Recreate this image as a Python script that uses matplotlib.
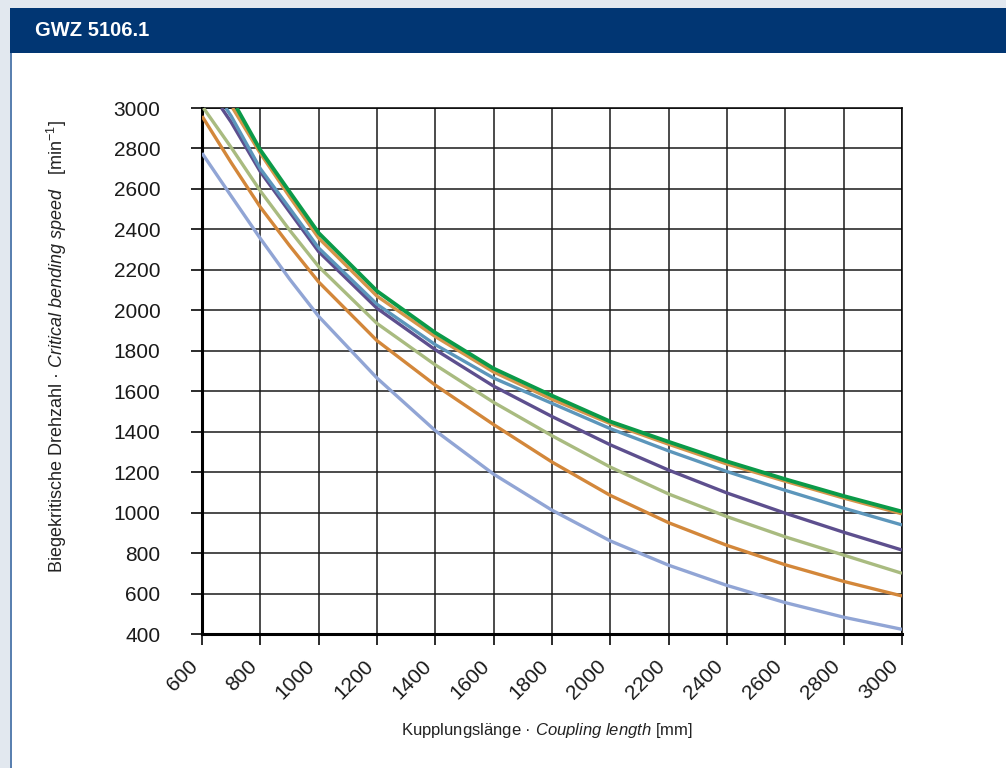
import numpy as np
import matplotlib.pyplot as plt
from matplotlib.patches import Rectangle

plt.rcParams['font.family'] = ['Liberation Sans', 'DejaVu Sans']
plt.rcParams['mathtext.fontset'] = 'custom'
plt.rcParams['mathtext.rm'] = 'Liberation Sans'
plt.rcParams['mathtext.it'] = 'Liberation Sans:italic'

# Data: coupling length [mm] vs critical bending speed [1/min]
x_grid = [800, 900, 1000, 1200, 1400, 1600, 1800, 2000, 2200, 2400, 2600, 2800, 3000]

x_lightblue = [600, 700] + x_grid
y_lightblue = [2777, 2565, 2355, 2155, 1970, 1665, 1405, 1190, 1012, 860, 740, 640, 555, 483, 423]

x_orange = [600, 700] + x_grid
y_orange = [2960, 2730, 2510, 2320, 2140, 1850, 1630, 1435, 1250, 1085, 950, 838, 742, 660, 588]

x_olive = [605, 700] + x_grid
y_olive = [3000, 2805, 2590, 2397, 2216, 1935, 1730, 1545, 1380, 1225, 1092, 980, 880, 790, 700]

x_purple = [667, 700] + x_grid
y_purple = [3000, 2930, 2685, 2487, 2290, 2010, 1805, 1625, 1475, 1335, 1210, 1097, 997, 903, 815]

x_steel = [682, 700] + x_grid
y_steel = [3000, 2960, 2700, 2505, 2308, 2030, 1830, 1665, 1540, 1415, 1305, 1203, 1110, 1022, 939]

x_orange2 = [705] + x_grid
y_orange2 = [3000, 2776, 2562, 2357, 2070, 1870, 1695, 1560, 1440, 1338, 1240, 1155, 1072, 994]

x_green = [719] + x_grid
y_green = [3000, 2792, 2586, 2382, 2095, 1889, 1712, 1578, 1450, 1350, 1253, 1165, 1082, 1005]

series = [
    (x_lightblue, y_lightblue, '#91a5d5', 2.4),
    (x_orange, y_orange, '#d3873a', 2.4),
    (x_olive, y_olive, '#a9bb80', 2.4),
    (x_purple, y_purple, '#5d4f8e', 2.4),
    (x_steel, y_steel, '#5c96bb', 2.4),
    (x_orange2, y_orange2, '#d6954a', 2.4),
    (x_green, y_green, '#0b9a48', 2.8),
]

xticks = list(range(600, 3001, 200))
yticks = list(range(400, 3001, 200))

fig = plt.figure(figsize=(10.06, 7.68), dpi=100)
fig.patch.set_facecolor('#e2e8ef')

# white panel + header bar
W, H = 1006, 768
fig.patches.append(Rectangle((10 / W, 0), 1 - 10 / W, 1 - 8 / H, transform=fig.transFigure,
                             facecolor='white', edgecolor='none', zorder=-10))
fig.patches.append(Rectangle((10 / W, 0), 2 / W, 1 - 53 / H, transform=fig.transFigure,
                             facecolor='#5a80b0', edgecolor='none', zorder=-9))
fig.patches.append(Rectangle((10 / W, 1 - 53 / H), 1 - 10 / W, 45 / H, transform=fig.transFigure,
                             facecolor='#013673', edgecolor='none', zorder=-9))
fig.text(35 / W, 1 - 31 / H, 'GWZ 5106.1', color='white', fontsize=14.5, fontweight='bold',
         va='center', ha='left')

ax = fig.add_axes([202 / W, 1 - 634 / H, 700 / W, 526 / H])
ax.set_facecolor('none')
for xs, ys, c, lw in series:
    ax.plot(xs, ys, color=c, lw=lw, solid_capstyle='butt', zorder=3)

ax.set_xlim(600, 3000)
ax.set_ylim(400, 3000)
ax.set_xticks(xticks)
ax.set_yticks(yticks)
ax.set_xticklabels([str(v) for v in xticks], rotation=45, ha='right', va='top')
ax.grid(True, color='#1a1a1a', lw=1.1)
ax.set_axisbelow(True)

ax.spines['left'].set_linewidth(2.2)
ax.spines['bottom'].set_linewidth(2.2)
ax.spines['top'].set_linewidth(1.1)
ax.spines['right'].set_linewidth(1.1)
ax.tick_params(axis='y', length=8, width=1.3, pad=22, labelsize=15, colors='#1a1a1a')
ax.tick_params(axis='x', length=8, width=1.3, pad=8, labelsize=15, colors='#1a1a1a')

fig.text(57 / W, 1 - 347 / H,
         r'Biegekritische Drehzahl · $\it{Critical\ bending\ speed}$   [min$^{-1}$]',
         rotation=90, ha='center', va='center', fontsize=13, color='#222222')
fig.text(547 / W, 1 - 731 / H,
         r'Kupplungslänge · $\it{Coupling\ length}$ [mm]',
         ha='center', va='center', fontsize=12, color='#222222')

fig.savefig('out.png', dpi=100, facecolor=fig.get_facecolor())
